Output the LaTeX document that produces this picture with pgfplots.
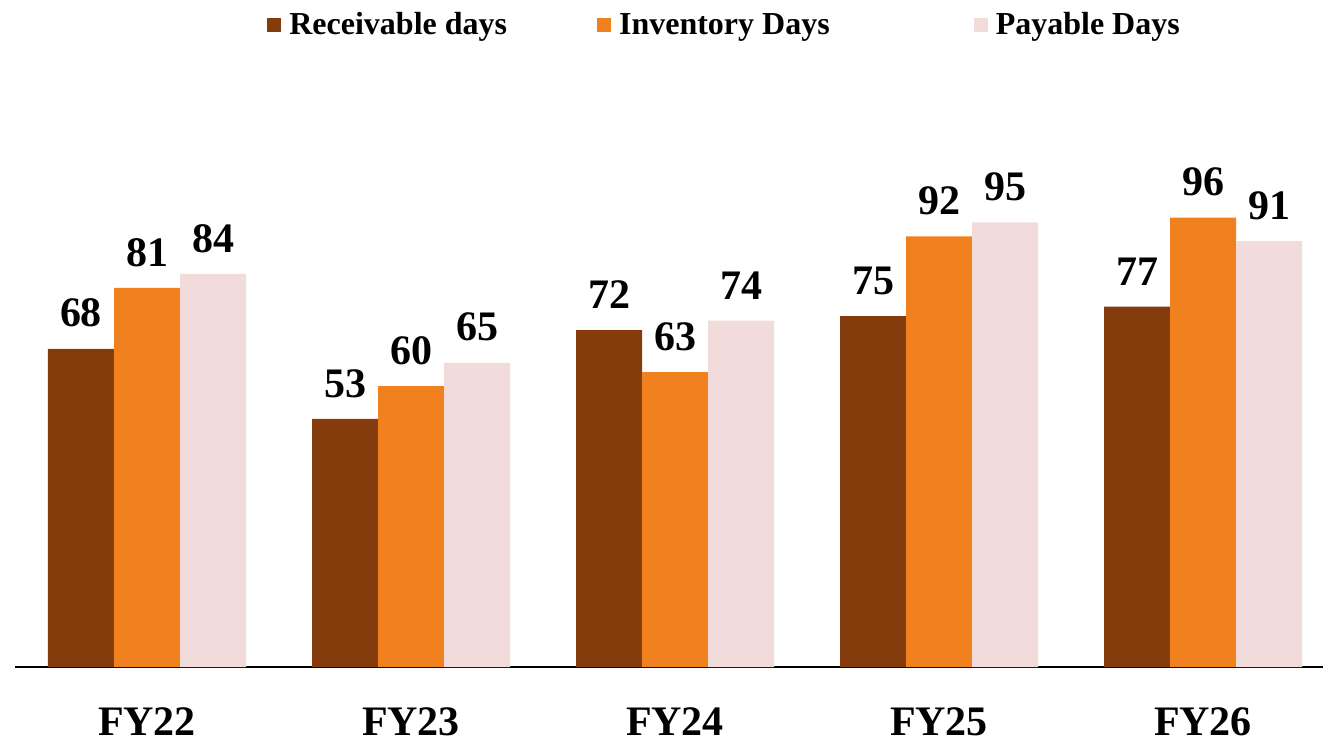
\documentclass[border=0pt]{standalone}
\usepackage{pgfplots}
\pgfplotsset{compat=1.18}
\usepackage{fontspec}
\setmainfont{Liberation Serif}

\definecolor{recv}{HTML}{843C0C}
\definecolor{inv}{HTML}{F0811E}
\definecolor{pay}{HTML}{F2DCDB}

\begin{document}
\begin{tikzpicture}
% page = 1323 x 745 px at 0.5pt per px; axis box lower left at px (15,667)
\useasboundingbox (-7.5pt,-39pt) rectangle (654pt,333.5pt);
\begin{axis}[
    scale only axis,
    width=660pt, height=304.2pt,
    ybar=0pt, bar width=33pt,
    ymin=0, ymax=130,
    xmin=-0.5, xmax=4.5,
    xtick=data,
    xticklabels={FY22,FY23,FY24,FY25,FY26},
    xticklabel style={font=\fontsize{21}{24}\selectfont\bfseries, inner sep=0pt, yshift=-20pt},
    major tick length=0pt,
    axis x line*=bottom,
    axis y line=none,
    x axis line style={black, line width=0.6pt, -},
    /pgf/number format/assume math mode=true,
    nodes near coords,
    every node near coord/.append style={font=\fontsize{21}{24}\selectfont\bfseries, text=black, inner sep=0pt, yshift=10.5pt},
    legend columns=3,
    legend style={at={(0.5383,1.055)}, anchor=center, draw=none, fill=none,
        font=\fontsize{16}{19}\selectfont\bfseries},
    legend image code/.code={\fill[#1] (0pt,-3.5pt) rectangle (7pt,3.5pt);},
]
\addplot[fill=recv, draw=none] coordinates {(0,68) (1,53) (2,72) (3,75) (4,77)};
\addlegendentry{\hspace*{2pt}Receivable days\hspace*{43pt}}
\addplot[fill=inv, draw=none] coordinates {(0,81) (1,60) (2,63) (3,92) (4,96)};
\addlegendentry{\hspace*{2pt}Inventory Days\hspace*{70pt}}
\addplot[fill=pay, draw=none] coordinates {(0,84) (1,65) (2,74) (3,95) (4,91)};
\addlegendentry{\hspace*{2pt}Payable Days}
\end{axis}
\end{tikzpicture}
\end{document}
